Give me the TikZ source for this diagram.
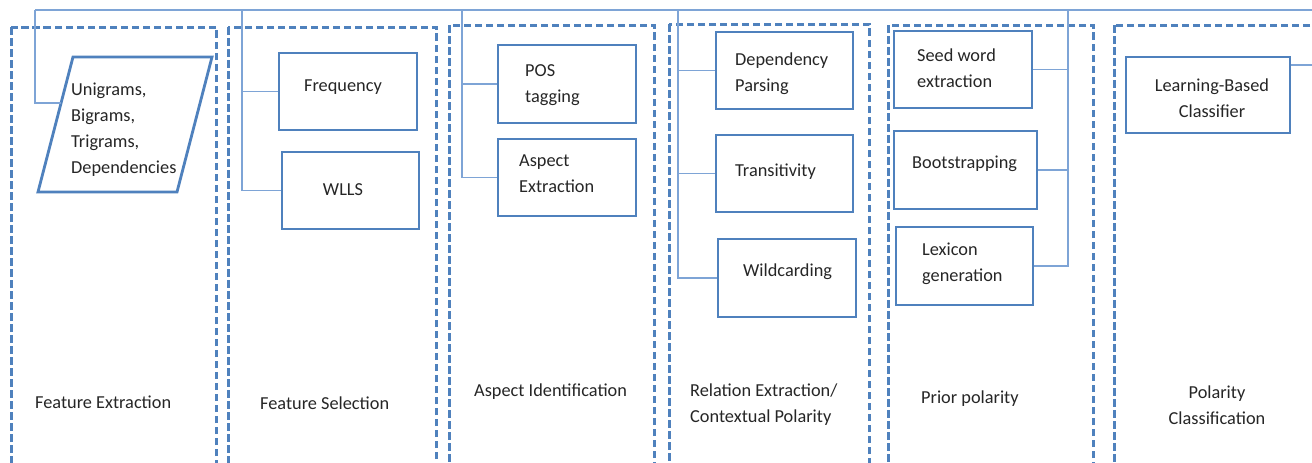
\documentclass[tikz,border=0pt]{standalone}
\usepackage{fontspec}
\setmainfont{Carlito}
\usetikzlibrary{calc}
\definecolor{accent}{HTML}{4F81BD}
\definecolor{linkblue}{HTML}{7EA4D6}
\definecolor{ink}{HTML}{262626}
\tikzset{
  group/.style={draw=accent, line width=3pt, dash pattern=on 7.5pt off 3.5pt},
  stepbox/.style={draw=accent, line width=2.8pt, inner sep=0pt},
  link/.style={draw=linkblue, line width=1.2pt},
  txt/.style={text=ink, inner sep=0pt, font=\fontsize{18.3}{26}\selectfont, align=left},
}
\begin{document}
\begin{tikzpicture}[x=1pt, y=-1pt]
\useasboundingbox (0,0) rectangle (1312,463);
\clip (0,0) rectangle (1312,463);
\fill[white] (0,0) rectangle (1312,463);

% stage containers
\draw[group] (11,27) rectangle (216,480);
\draw[group] (228,27) rectangle (436,480);
\draw[group] (449,25) rectangle (654,480);
\draw[group] (669,24) rectangle (869,480);
\draw[group] (888,25) rectangle (1093,480);
\draw[group] (1114,25) rectangle (1340,480);

% stage titles
\node[txt, anchor=west] (t1) at (35,402) {Feature Extraction};
\node[txt, anchor=west] (t2) at (260,403) {Feature Selection};
\node[txt, anchor=west] (t3) at (474,392) {Aspect Identification};
\node[txt, anchor=west] (t4) at (690,404.5) {Relation Extraction/\\Contextual Polarity};
\node[txt, anchor=west] (t5) at (921,398.5) {Prior polarity};
\node[txt, align=center] (t6) at (1217,405) {Polarity\\Classification};

% feature extraction input (parallelogram)
\coordinate (pgTL) at (73,57);
\coordinate (pgTR) at (212,57);
\coordinate (pgBR) at (177,192);
\coordinate (pgBL) at (38,192);
\draw[stepbox, line join=miter] (pgTL) -- (pgTR) -- (pgBR) -- (pgBL) -- cycle;
\node[txt, anchor=west] (grams) at (71,130) {Unigrams,\\Bigrams,\\Trigrams,\\Dependencies};
\coordinate (pgIn) at ($(pgTL)!0.34!(pgBL)$);

% step boxes
\node[stepbox, minimum width=138pt, minimum height=77pt] (freq) at (348,91.5) {};
\node[stepbox, minimum width=137pt, minimum height=77pt] (wlls) at (350.5,190.5) {};
\node[stepbox, minimum width=138pt, minimum height=78pt] (pos) at (567,84) {};
\node[stepbox, minimum width=138pt, minimum height=77pt] (aspx) at (567,177.5) {};
\node[stepbox, minimum width=137pt, minimum height=77pt] (dep) at (784.5,70.5) {};
\node[stepbox, minimum width=137pt, minimum height=77pt] (trans) at (784.5,173.5) {};
\node[stepbox, minimum width=138pt, minimum height=78pt] (wild) at (787,278) {};
\node[stepbox, minimum width=138pt, minimum height=77pt] (seed) at (963,69.5) {};
\node[stepbox, minimum width=143pt, minimum height=78pt] (boot) at (965.5,170) {};
\node[stepbox, minimum width=137pt, minimum height=78pt] (lex) at (964.5,266) {};
\node[stepbox, minimum width=164pt, minimum height=76pt] (clf) at (1208,95) {};

% step labels
\node[txt, align=center] (freqT) at (343,87.5) {Frequency};
\node[txt, align=center] (wllsT) at (343,190) {WLLS};
\node[txt, anchor=west] (posT) at (525,85) {POS\\tagging};
\node[txt, anchor=west] (aspxT) at (519,174) {Aspect\\Extraction};
\node[txt, anchor=west] (depT) at (735,73.5) {Dependency\\Parsing};
\node[txt, anchor=west] (transT) at (735,171.5) {Transitivity};
\node[txt, anchor=west] (wildT) at (743,271.5) {Wildcarding};
\node[txt, anchor=west] (seedT) at (917,68) {Seed word\\extraction};
\node[txt, anchor=west] (bootT) at (912,163.5) {Bootstrapping};
\node[txt, anchor=west] (lexT) at (922,263.5) {Lexicon\\generation};
\node[txt, align=center] (clfT) at (1212,98) {Learning-Based\\Classifier};

% bus along the top
\coordinate (b1) at (35,10);
\coordinate (b2) at (242,10);
\coordinate (b3) at (462,10);
\coordinate (b4) at (678,10);
\coordinate (b5) at (1068,10);
\coordinate (bR) at (1330,10);
\draw[link] (b1) -- (bR);

% branches
\draw[link] (b1) |- (pgIn);
\draw[link] (b2) |- (wlls.west);
\draw[link] (b2 |- freq.west) -- (freq.west);
\draw[link] (b3) |- (aspx.west);
\draw[link] (b3 |- pos.west) -- (pos.west);
\draw[link] (b4) |- (wild.west);
\draw[link] (b4 |- dep.west) -- (dep.west);
\draw[link] (b4 |- trans.west) -- (trans.west);
\draw[link] (b5) |- (lex.east);
\draw[link] (b5 |- seed.east) -- (seed.east);
\draw[link] (b5 |- boot.east) -- (boot.east);
\draw[link] ($(clf.north east)!0.12!(clf.south east)$) -| (bR);
\end{tikzpicture}
\end{document}
